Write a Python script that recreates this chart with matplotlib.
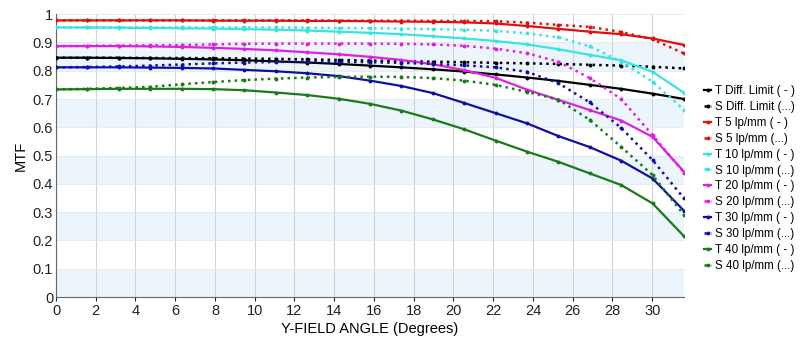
import matplotlib
matplotlib.use("Agg")
import matplotlib.pyplot as plt
import numpy as np

field = [0.0, 1.58, 3.16, 4.74, 6.32, 7.9, 9.48, 11.06, 12.64, 14.22, 15.8,
         17.38, 18.96, 20.54, 22.12, 23.7, 25.28, 26.86, 28.44, 30.02, 31.6]

t_diff = [0.846, 0.846, 0.845, 0.844, 0.842, 0.840, 0.837, 0.833, 0.829, 0.824, 0.818,
          0.812, 0.805, 0.797, 0.787, 0.776, 0.764, 0.750, 0.736, 0.719, 0.700]
s_diff = [0.846, 0.846, 0.846, 0.845, 0.845, 0.844, 0.843, 0.842, 0.840, 0.838, 0.836,
          0.834, 0.832, 0.830, 0.828, 0.826, 0.824, 0.821, 0.818, 0.814, 0.808]
t5 = [0.978, 0.978, 0.978, 0.978, 0.978, 0.977, 0.977, 0.977, 0.976, 0.976, 0.975,
      0.974, 0.973, 0.971, 0.967, 0.958, 0.948, 0.938, 0.929, 0.914, 0.891]
s5 = [0.978, 0.978, 0.978, 0.978, 0.978, 0.978, 0.978, 0.978, 0.978, 0.977, 0.977,
      0.977, 0.976, 0.976, 0.975, 0.970, 0.962, 0.955, 0.937, 0.911, 0.861]
t10 = [0.953, 0.953, 0.952, 0.951, 0.950, 0.949, 0.947, 0.945, 0.942, 0.938, 0.934,
       0.929, 0.922, 0.914, 0.905, 0.893, 0.876, 0.856, 0.837, 0.796, 0.722]
s10 = [0.953, 0.953, 0.953, 0.953, 0.953, 0.953, 0.953, 0.953, 0.952, 0.951, 0.950,
       0.949, 0.947, 0.945, 0.941, 0.932, 0.918, 0.886, 0.832, 0.761, 0.662]
t20 = [0.887, 0.887, 0.887, 0.886, 0.884, 0.881, 0.877, 0.872, 0.865, 0.858, 0.849,
       0.838, 0.823, 0.802, 0.775, 0.733, 0.697, 0.661, 0.624, 0.566, 0.443]
s20 = [0.887, 0.888, 0.889, 0.890, 0.891, 0.893, 0.895, 0.896, 0.896, 0.896, 0.896,
       0.895, 0.893, 0.888, 0.878, 0.862, 0.832, 0.774, 0.700, 0.572, 0.440]
t30 = [0.812, 0.812, 0.812, 0.811, 0.810, 0.808, 0.803, 0.798, 0.791, 0.781, 0.765,
       0.746, 0.721, 0.686, 0.650, 0.614, 0.569, 0.530, 0.482, 0.419, 0.305]
s30 = [0.812, 0.813, 0.815, 0.818, 0.822, 0.826, 0.829, 0.831, 0.832, 0.832, 0.830,
       0.828, 0.824, 0.819, 0.812, 0.796, 0.756, 0.688, 0.598, 0.484, 0.349]
t40 = [0.734, 0.735, 0.736, 0.736, 0.736, 0.735, 0.731, 0.723, 0.714, 0.701, 0.683,
       0.659, 0.628, 0.593, 0.553, 0.514, 0.478, 0.437, 0.396, 0.331, 0.215]
s40 = [0.734, 0.736, 0.739, 0.743, 0.752, 0.760, 0.767, 0.772, 0.776, 0.778, 0.779,
       0.778, 0.774, 0.765, 0.750, 0.725, 0.698, 0.626, 0.531, 0.431, 0.290]

labels = ["T Diff. Limit ( - )", "S Diff. Limit (...)",
          "T 5 lp/mm ( - )", "S 5 lp/mm (...)",
          "T 10 lp/mm ( - )", "S 10 lp/mm (...)",
          "T 20 lp/mm ( - )", "S 20 lp/mm (...)",
          "T 30 lp/mm ( - )", "S 30 lp/mm (...)",
          "T 40 lp/mm ( - )", "S 40 lp/mm (...)"]
series = [t_diff, s_diff, t5, s5, t10, s10, t20, s20, t30, s30, t40, s40]
colors = ["#000000", "#000000", "#e01010", "#e01010", "#38e4e0", "#38e4e0",
          "#e020e0", "#e020e0", "#1010a0", "#1010a0", "#1a7a1a", "#1a7a1a"]

xticks = list(range(0, 31, 2))
yticks = [0, 0.1, 0.2, 0.3, 0.4, 0.5, 0.6, 0.7, 0.8, 0.9, 1.0]
ytick_labels = ["0", "0.1", "0.2", "0.3", "0.4", "0.5", "0.6", "0.7", "0.8", "0.9", "1"]

plt.rcParams['font.family'] = ['Liberation Sans', 'DejaVu Sans']
fig = plt.figure(figsize=(8.0, 3.45), dpi=100)
ax = fig.add_axes([0.07, 0.139, 0.785, 0.82])

# alternating bands
for i in range(0, 10, 2):
    ax.axhspan(yticks[i], yticks[i + 1], color="#edf5fc", zorder=0, lw=0)

for ys, c, lab in zip(series, colors, labels):
    ls = "-" if lab.startswith("T") else ":"
    lw = 1.6 if ls == "-" else 1.8
    ax.plot(field, ys, color=c, linestyle=ls, linewidth=lw, marker="o",
            markersize=1.8, label=lab, zorder=3)

ax.set_xlim(0, 31.6)
ax.set_ylim(0, 1)
ax.set_xticks(xticks)
ax.set_yticks(yticks)
ax.set_yticklabels(ytick_labels)
ax.grid(True, axis="x", color="#d0d4d8", linewidth=0.8, zorder=1)
ax.grid(True, axis="y", color="#e3e8ee", linewidth=0.6, zorder=1)
ax.set_axisbelow(True)
ax.tick_params(axis="both", labelsize=10.5, colors="#222222", length=3, pad=2)
ax.tick_params(axis="y", length=0)
for s in ["top", "right"]:
    ax.spines[s].set_visible(False)
for s in ["left", "bottom"]:
    ax.spines[s].set_color("#666666")
ax.set_xlabel("Y-FIELD ANGLE (Degrees)", fontsize=10.5, labelpad=3)
ax.set_ylabel("MTF", fontsize=10.5, labelpad=4)

leg = ax.legend(loc="upper left", bbox_to_anchor=(1.025, 0.765), frameon=False,
                fontsize=8.4, handlelength=0.6, handletextpad=0.3,
                labelspacing=0.33, borderaxespad=0)

fig.savefig("out.png", dpi=100)
